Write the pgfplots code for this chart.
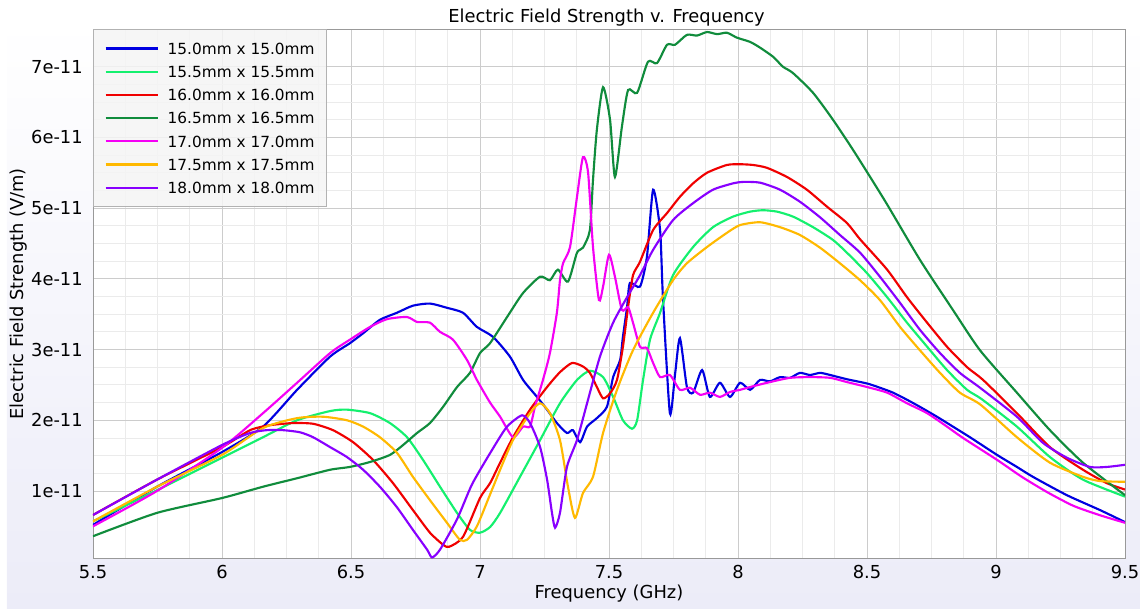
\documentclass[border=0pt]{standalone}
\usepackage{fontspec}
\setmainfont{DejaVu Sans}
\usepackage{pgfplots}
\pgfplotsset{compat=1.18}

\definecolor{cBlue}{RGB}{0,0,225}
\definecolor{cLGreen}{RGB}{20,240,110}
\definecolor{cRed}{RGB}{240,0,0}
\definecolor{cDGreen}{RGB}{16,140,60}
\definecolor{cMag}{RGB}{245,0,245}
\definecolor{cOrange}{RGB}{255,185,0}
\definecolor{cPurple}{RGB}{136,0,255}
\definecolor{bgLav}{RGB}{236,236,248}

\begin{document}
\begin{tikzpicture}
\useasboundingbox (-69.75pt,-37.5pt) rectangle (785.25pt,418.5pt);
\fill[top color=white, bottom color=bgLav] (-64.5pt,-37.5pt) rectangle (785.25pt,403.5pt);
\begin{axis}[
    scale only axis,
    width=774pt, height=396.4pt,
    xmin=5.5, xmax=9.5,
    ymin=0.052, ymax=7.526,
    font=\fontsize{13.4}{16}\selectfont,
    axis background/.style={fill=white},
    axis line style={draw=black!40},
    xtick={5.5,6,6.5,7,7.5,8,8.5,9,9.5},
    xticklabels={5.5,6,6.5,7,7.5,8,8.5,9,9.5},
    ytick={1,2,3,4,5,6,7},
    yticklabels={1e-11,2e-11,3e-11,4e-11,5e-11,6e-11,7e-11},
    minor x tick num=3, minor y tick num=3,
    major tick length=0pt, minor tick length=0pt,
    grid=both,
    major grid style={draw=black!20, line width=0.6pt},
    minor grid style={draw=black!8, line width=0.6pt},
    xticklabel style={anchor=base, inner sep=0pt, yshift=-15.5pt},
    yticklabel style={anchor=east, inner sep=0pt, xshift=-7.5pt},
    title={Electric Field Strength v. Frequency},
    every axis title/.style={at={(axis description cs:0.4976,1.0123)}, anchor=base, inner sep=0pt},
    xlabel={Frequency (GHz)},
    xlabel style={at={(axis description cs:0.5,-0.068)}, anchor=center, inner sep=0pt},
    ylabel={Electric Field Strength (V/m)},
    ylabel style={at={(axis description cs:-0.0717,0.5)}, anchor=center, inner sep=0pt},
    legend cell align=left,
    legend image code/.code={\draw[#1] (0pt,0pt) -- (39pt,0pt);},
    legend style={
        at={(0,1)}, anchor=north west,
        font=\fontsize{11.5}{14}\selectfont,
        fill=black!4, fill opacity=0.85, text opacity=1, draw=black!30,
        inner xsep=8.5pt, inner ysep=9.8pt,
        row sep=8.8pt,
        nodes={inner sep=0pt, text height=8.6pt, text depth=0pt},
        /tikz/every odd column/.append style={column sep=6.75pt},
    },
    every axis plot/.append style={line width=1.6pt, smooth, tension=0.4},
]

\addplot[cBlue] table {
5.5 0.52
5.748 1.06
6.0 1.55
6.159 1.91
6.291 2.43
6.419 2.90
6.496 3.09
6.547 3.23
6.612 3.42
6.678 3.52
6.740 3.62
6.806 3.65
6.872 3.59
6.934 3.52
6.988 3.32
7.050 3.18
7.116 2.90
7.167 2.57
7.221 2.33
7.260 2.15
7.298 1.96
7.337 1.82
7.360 1.86
7.388 1.69
7.415 1.91
7.453 2.03
7.492 2.19
7.516 2.61
7.543 2.85
7.554 3.18
7.570 3.60
7.581 3.94
7.620 3.89
7.647 4.31
7.671 5.26
7.698 4.69
7.709 3.74
7.736 2.10
7.756 2.65
7.775 3.16
7.802 2.47
7.826 2.39
7.861 2.71
7.891 2.33
7.930 2.53
7.969 2.33
8.008 2.53
8.047 2.43
8.085 2.57
8.124 2.55
8.163 2.61
8.202 2.60
8.240 2.67
8.279 2.64
8.318 2.67
8.357 2.64
8.422 2.58
8.500 2.52
8.550 2.46
8.601 2.39
8.655 2.29
8.705 2.19
8.771 2.05
8.833 1.91
8.899 1.76
9.004 1.51
9.081 1.34
9.143 1.20
9.275 0.94
9.403 0.73
9.500 0.56
};
\addlegendentry{15.0mm x 15.0mm}

\addplot[cLGreen] table {
5.5 0.57
5.748 1.01
6.0 1.47
6.159 1.76
6.291 2.00
6.419 2.13
6.484 2.15
6.574 2.10
6.651 1.96
6.717 1.76
6.779 1.44
6.845 1.06
6.911 0.69
6.961 0.45
7.000 0.41
7.039 0.49
7.078 0.69
7.155 1.20
7.233 1.72
7.310 2.24
7.376 2.57
7.426 2.70
7.477 2.61
7.516 2.33
7.554 2.00
7.589 1.88
7.609 2.00
7.632 2.57
7.659 3.14
7.698 3.52
7.748 4.05
7.826 4.45
7.903 4.73
7.981 4.88
8.047 4.95
8.097 4.97
8.151 4.95
8.213 4.88
8.291 4.73
8.368 4.55
8.422 4.37
8.500 4.08
8.578 3.74
8.655 3.38
8.733 3.04
8.810 2.71
8.888 2.43
8.944 2.30
9.081 1.91
9.209 1.48
9.337 1.16
9.500 0.92
};
\addlegendentry{15.5mm x 15.5mm}

\addplot[cRed] table {
5.5 0.66
5.748 1.16
6.0 1.62
6.109 1.86
6.186 1.93
6.275 1.96
6.353 1.95
6.430 1.86
6.508 1.69
6.585 1.44
6.663 1.11
6.740 0.73
6.806 0.41
6.857 0.24
6.880 0.21
6.934 0.35
7.000 0.90
7.039 1.11
7.078 1.40
7.128 1.76
7.194 2.15
7.260 2.47
7.310 2.68
7.357 2.81
7.399 2.76
7.426 2.67
7.453 2.47
7.477 2.31
7.504 2.38
7.531 2.57
7.554 3.04
7.574 3.60
7.593 4.05
7.620 4.24
7.671 4.69
7.725 4.93
7.775 5.16
7.826 5.35
7.880 5.50
7.957 5.61
8.008 5.62
8.058 5.61
8.112 5.57
8.190 5.44
8.267 5.26
8.345 5.02
8.422 4.79
8.473 4.56
8.578 4.13
8.655 3.74
8.733 3.38
8.810 3.04
8.888 2.75
8.950 2.57
9.081 2.10
9.209 1.62
9.337 1.30
9.430 1.11
9.500 1.02
};
\addlegendentry{16.0mm x 16.0mm}

\addplot[cDGreen] table {
5.5 0.36
5.748 0.69
6.0 0.90
6.159 1.06
6.291 1.18
6.419 1.30
6.496 1.34
6.574 1.41
6.651 1.51
6.702 1.65
6.756 1.82
6.806 1.96
6.857 2.19
6.911 2.47
6.961 2.67
7.000 2.95
7.039 3.09
7.105 3.46
7.167 3.80
7.233 4.03
7.271 3.98
7.302 4.13
7.341 3.96
7.376 4.37
7.399 4.44
7.426 4.69
7.438 5.40
7.453 6.11
7.477 6.71
7.504 6.25
7.523 5.44
7.550 6.15
7.574 6.67
7.609 6.63
7.651 7.07
7.686 7.05
7.725 7.31
7.756 7.31
7.802 7.45
7.841 7.44
7.880 7.49
7.919 7.46
7.957 7.48
7.996 7.41
8.047 7.35
8.085 7.27
8.136 7.14
8.174 7.00
8.213 6.91
8.291 6.63
8.368 6.25
8.450 5.80
8.570 5.10
8.705 4.27
8.833 3.56
8.938 2.99
9.081 2.39
9.209 1.86
9.337 1.40
9.500 0.94
};
\addlegendentry{16.5mm x 16.5mm}

\addplot[cMag] table {
5.5 0.50
5.748 1.00
6.0 1.61
6.159 2.10
6.291 2.53
6.419 2.95
6.496 3.14
6.574 3.32
6.640 3.43
6.717 3.46
6.756 3.39
6.806 3.38
6.845 3.25
6.895 3.14
6.950 2.85
6.988 2.57
7.039 2.25
7.078 2.05
7.128 1.76
7.167 1.91
7.194 1.91
7.213 2.19
7.244 2.57
7.271 2.95
7.298 3.52
7.310 3.98
7.322 4.22
7.349 4.45
7.376 5.16
7.399 5.72
7.419 5.50
7.438 4.45
7.461 3.70
7.477 3.89
7.500 4.34
7.523 4.03
7.550 3.56
7.574 3.60
7.593 3.38
7.620 3.04
7.647 3.02
7.671 2.81
7.698 2.61
7.736 2.64
7.775 2.43
7.814 2.46
7.853 2.36
7.891 2.39
7.930 2.33
7.969 2.40
8.008 2.43
8.047 2.47
8.124 2.54
8.202 2.60
8.279 2.61
8.357 2.60
8.422 2.54
8.500 2.47
8.578 2.39
8.655 2.24
8.733 2.10
8.810 1.91
8.872 1.75
9.004 1.44
9.100 1.20
9.200 0.98
9.300 0.79
9.400 0.66
9.500 0.55
};
\addlegendentry{17.0mm x 17.0mm}

\addplot[cOrange] table {
5.5 0.57
5.748 1.06
6.0 1.51
6.159 1.89
6.291 2.03
6.391 2.05
6.484 2.00
6.547 1.91
6.612 1.76
6.678 1.54
6.740 1.20
6.806 0.87
6.872 0.55
6.922 0.31
6.950 0.31
6.988 0.50
7.039 0.95
7.078 1.30
7.128 1.72
7.194 2.10
7.233 2.24
7.271 2.10
7.310 1.72
7.341 1.06
7.368 0.62
7.399 0.97
7.438 1.20
7.477 1.82
7.531 2.43
7.593 2.99
7.671 3.52
7.748 3.98
7.802 4.22
7.880 4.45
7.957 4.65
8.008 4.76
8.085 4.80
8.163 4.73
8.240 4.62
8.318 4.44
8.395 4.22
8.473 3.98
8.550 3.70
8.628 3.32
8.705 2.99
8.783 2.67
8.860 2.39
8.940 2.22
9.081 1.76
9.209 1.40
9.337 1.20
9.403 1.14
9.500 1.13
};
\addlegendentry{17.5mm x 17.5mm}

\addplot[cPurple] table {
5.5 0.66
5.748 1.16
6.0 1.65
6.109 1.82
6.174 1.86
6.236 1.86
6.302 1.83
6.353 1.76
6.419 1.62
6.484 1.48
6.547 1.30
6.612 1.06
6.678 0.77
6.740 0.45
6.795 0.17
6.814 0.06
6.845 0.17
6.911 0.60
6.970 1.10
7.050 1.60
7.105 1.91
7.163 2.07
7.194 1.96
7.233 1.62
7.260 1.16
7.279 0.69
7.291 0.48
7.310 0.69
7.337 1.34
7.376 1.72
7.415 2.24
7.465 2.90
7.516 3.38
7.570 3.74
7.620 4.05
7.671 4.41
7.748 4.83
7.826 5.07
7.903 5.26
7.981 5.35
8.019 5.37
8.085 5.36
8.163 5.26
8.240 5.09
8.318 4.87
8.395 4.62
8.473 4.37
8.550 4.03
8.628 3.66
8.705 3.28
8.783 2.95
8.860 2.67
8.938 2.46
9.081 2.05
9.182 1.68
9.275 1.47
9.364 1.34
9.430 1.34
9.500 1.37
};
\addlegendentry{18.0mm x 18.0mm}

\end{axis}
\end{tikzpicture}
\end{document}
